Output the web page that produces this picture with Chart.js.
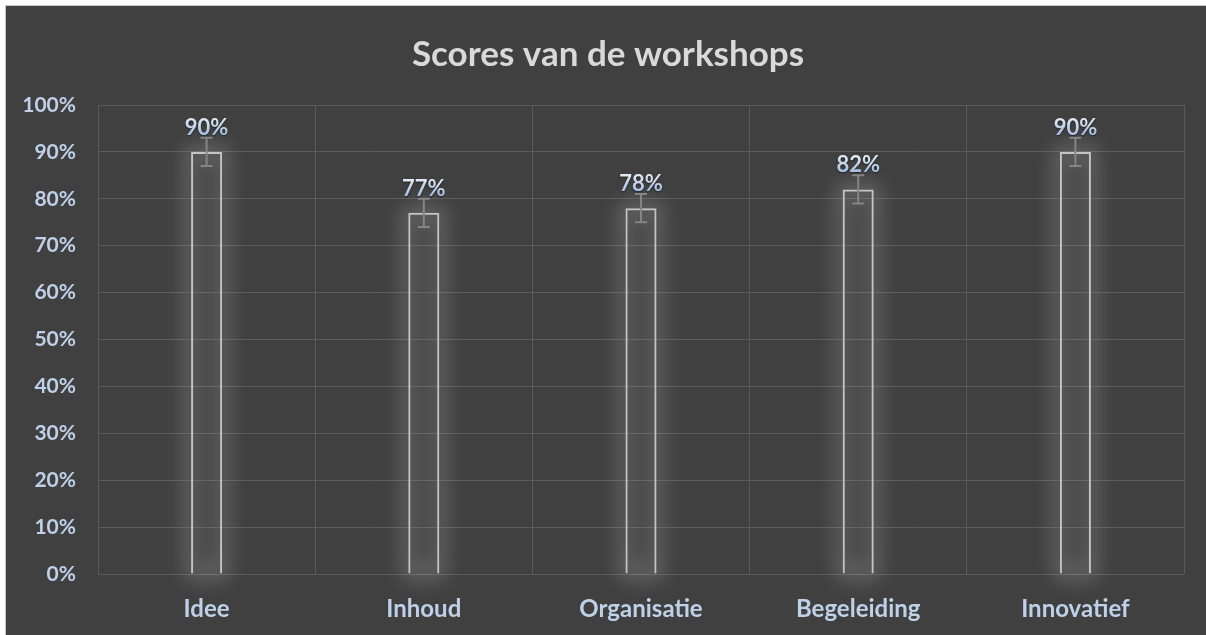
<!DOCTYPE html>
<html>
<head>
<meta charset="utf-8">
<script src="https://cdn.jsdelivr.net/npm/chart.js@4.4.1/dist/chart.umd.min.js"></script>
<style>
  html, body { margin: 0; padding: 0; background: #ffffff; }
  #wrap {
    position: absolute; left: 5px; top: 5px; width: 1200px; height: 629px;
    background: #404040; border-top: 1px solid #c8c8c8; border-left: 1px solid #c8c8c8;
  }
  #graph_canvas { display: block; }
</style>
</head>
<body>
<div id="wrap"><canvas id="graph_canvas"></canvas></div>
<script>
// chart data
categories = ['Idee', 'Inhoud', 'Organisatie', 'Begeleiding', 'Innovatief'];
scores = [90, 77, 78, 82, 90];
errors = [3, 3, 3, 3, 3];
yTicks = [0, 10, 20, 30, 40, 50, 60, 70, 80, 90, 100];

const labelColor = '#bfd1e8';
const fontName = 'Lato';

// soft white glow around every bar, drawn before the bars
const glowPlugin = {
    id: 'glow',
    afterLayout(chart) {
        // title is centred over the whole picture, not the padded box
        chart.titleBlock.right = chart.width + 4;
    },
    beforeDatasetsDraw(chart) {
        const ctx = chart.ctx;
        const meta = chart.getDatasetMeta(0);
        const off = 5000;
        ctx.save();
        meta.data.forEach(bar => {
            const w = bar.width;
            const x = bar.x - w / 2;
            const y = bar.y;
            const h = bar.base - bar.y;
            // only the shadow lands on the canvas
            ctx.shadowOffsetX = off;
            ctx.shadowColor = 'rgba(255,255,255,0.28)';
            ctx.shadowBlur = 20;
            ctx.lineWidth = 10;
            ctx.strokeStyle = '#ffffff';
            ctx.strokeRect(x - off, y, w, h);
        });
        ctx.restore();
    }
};

// error bars and value labels on top
const errorPlugin = {
    id: 'errors',
    afterDatasetsDraw(chart) {
        const ctx = chart.ctx;
        const yScale = chart.scales.y;
        const meta = chart.getDatasetMeta(0);
        ctx.save();
        meta.data.forEach((bar, i) => {
            const top = yScale.getPixelForValue(scores[i] + errors[i]);
            const bottom = yScale.getPixelForValue(scores[i] - errors[i]);
            ctx.strokeStyle = '#858585';
            ctx.lineWidth = 2;
            ctx.beginPath();
            ctx.moveTo(bar.x, top);
            ctx.lineTo(bar.x, bottom);
            ctx.moveTo(bar.x - 6, top);
            ctx.lineTo(bar.x + 6, top);
            ctx.moveTo(bar.x - 6, bottom);
            ctx.lineTo(bar.x + 6, bottom);
            ctx.stroke();

            const grad = ctx.createLinearGradient(0, top - 20, 0, top - 3);
            grad.addColorStop(0, '#e3ecf7');
            grad.addColorStop(1, '#a3bde0');
            ctx.fillStyle = grad;
            ctx.font = 'bold 22px ' + fontName;
            ctx.textAlign = 'center';
            ctx.textBaseline = 'alphabetic';
            ctx.shadowColor = 'rgba(0,0,0,0.5)';
            ctx.shadowBlur = 2;
            ctx.shadowOffsetY = 1;
            ctx.fillText(scores[i] + '%', bar.x, top - 3);
            ctx.shadowColor = 'transparent';
        });
        ctx.restore();
    }
};

const canvas = document.getElementById('graph_canvas');
canvas.width = 1200;
canvas.height = 629;
chart = new Chart(canvas.getContext('2d'), {
    type: 'bar',
    data: {
        labels: categories,
        datasets: [{
            data: scores,
            backgroundColor: 'rgba(0,0,0,0)',
            borderColor: '#c4c4c4',
            borderWidth: 2,
            categoryPercentage: 1,
            barPercentage: 0.143
        }]
    },
    options: {
        responsive: false,
        maintainAspectRatio: false,
        animation: false,
        layout: { padding: { left: 0, right: 22, top: 0, bottom: 0 } },
        scales: {
            y: {
                min: 0,
                max: 100,
                afterBuildTicks: function(scale) {
                    scale.ticks = yTicks.map(v => ({ value: v }));
                },
                afterFit: function(scale) { scale.width = 92; },
                grid: { color: '#5a5a5a', lineWidth: 1, drawTicks: false },
                border: { display: false },
                ticks: {
                    padding: 22,
                    color: labelColor,
                    font: { family: fontName, size: 21, weight: 'bold' },
                    callback: v => v + '%'
                }
            },
            x: {
                afterFit: function(scale) { scale.height = 61; },
                grid: { color: '#5a5a5a', lineWidth: 1, drawTicks: false, offset: true },
                border: { display: false },
                ticks: {
                    padding: 21,
                    color: labelColor,
                    font: { family: fontName, size: 24, weight: 'bold' }
                }
            }
        },
        plugins: {
            legend: { display: false },
            tooltip: { enabled: false },
            title: {
                display: true,
                text: 'Scores van de workshops',
                color: '#d9d9d9',
                font: { family: fontName, size: 35, weight: 'bold' },
                padding: { top: 28, bottom: 29 }
            }
        }
    },
    plugins: [glowPlugin, errorPlugin]
});
</script>
</body>
</html>
